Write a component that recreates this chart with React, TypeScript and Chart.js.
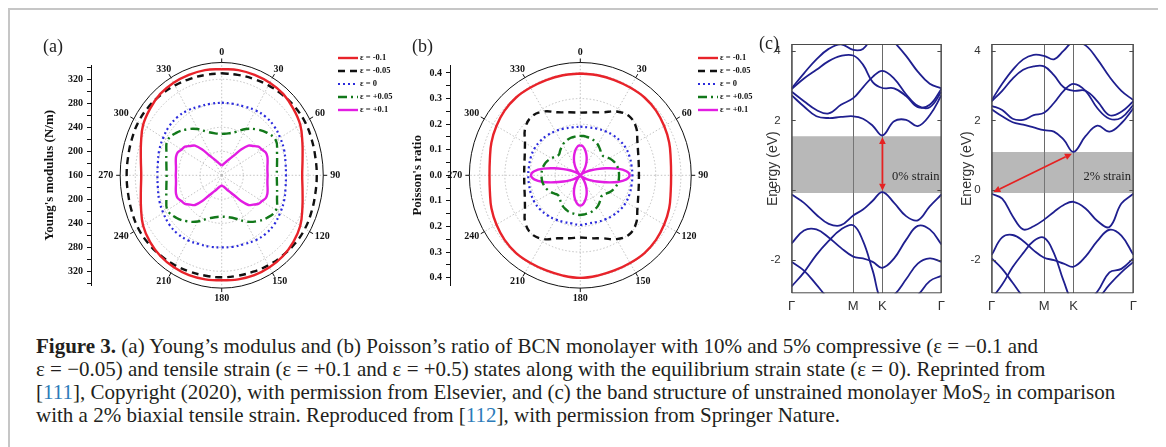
import React, { useEffect, useRef } from 'react';
import { Chart, registerables } from 'chart.js';

Chart.register(...registerables);

const SERIF = '"Liberation Serif", "Times New Roman", serif';
const SANS = '"Liberation Sans", Arial, sans-serif';

// ---------------- polar panels: angle grids (deg, clockwise from top) ----------------
const ANGLES_10 = [0, 10, 20, 30, 40, 50, 60, 70, 80, 90, 100, 110, 120, 130, 140, 150, 160, 170,
  180, 190, 200, 210, 220, 230, 240, 250, 260, 270, 280, 290, 300, 310, 320, 330, 340, 350];
const ANGLES_5 = [0, 5, 10, 15, 20, 25, 30, 35, 40, 45, 50, 55, 60, 65, 70, 75, 80, 85,
  90, 95, 100, 105, 110, 115, 120, 125, 130, 135, 140, 145, 150, 155, 160, 165, 170, 175,
  180, 185, 190, 195, 200, 205, 210, 215, 220, 225, 230, 235, 240, 245, 250, 255, 260, 265,
  270, 275, 280, 285, 290, 295, 300, 305, 310, 315, 320, 325, 330, 335, 340, 345, 350, 355];
const ANGLE_TICKS = [0, 30, 60, 90, 120, 150, 180, 210, 240, 270, 300, 330];
const STRAIN_LABELS = ['ε = -0.1', 'ε = -0.05', 'ε = 0', 'ε = +0.05', 'ε = +0.1'];

// (a) Young's modulus (N/m)
const YOUNG_BASE = 160;
const YOUNG_RINGS = [200, 240, 280, 320];
const YOUNG_OUTER = 348;
const YOUNG_M010 = [337, 338, 338, 338, 337, 333, 328, 319, 312, 309, 312, 319, 328, 333, 336, 337, 337, 336,
  335, 336, 337, 337, 336, 333, 328, 319, 312, 309, 312, 319, 328, 333, 337, 338, 338, 338];
const YOUNG_M005 = [330, 330, 331, 333, 335, 337, 338, 337, 336, 336, 336, 337, 338, 337, 335, 333, 331, 330,
  330, 330, 331, 333, 335, 337, 338, 337, 336, 336, 336, 337, 338, 337, 335, 333, 331, 330];
const YOUNG_0 = [281, 281, 282, 285, 287, 287, 285, 283, 280, 279, 280, 283, 285, 287, 287, 285, 282, 281,
  280, 281, 282, 285, 287, 287, 285, 283, 280, 279, 280, 283, 285, 287, 287, 285, 282, 281];
const YOUNG_P005 = [229, 231, 237, 249, 260, 270, 276, 269, 264, 262, 264, 269, 276, 270, 260, 249, 237, 231,
  229, 231, 237, 249, 260, 270, 276, 269, 264, 262, 264, 269, 276, 270, 260, 249, 237, 231];
const YOUNG_P010 = [176, 177, 179, 181, 184, 188, 193, 201, 216, 230, 236, 243, 246, 250, 250, 248, 246, 245,
  245, 245, 246, 248, 250, 250, 246, 243, 236, 230, 216, 201, 193, 188, 184, 181, 179, 178,
  177, 178, 179, 181, 184, 188, 193, 201, 216, 230, 236, 243, 246, 250, 250, 248, 246, 245,
  245, 245, 246, 248, 250, 250, 246, 243, 236, 230, 216, 201, 193, 188, 184, 181, 179, 177];

// (b) Poisson's ratio
const POISSON_RINGS = [0.1, 0.2, 0.3, 0.4];
const POISSON_OUTER = 0.441;
const POISSON_M010 = [0.398, 0.397, 0.396, 0.396, 0.397, 0.393, 0.385, 0.376, 0.365, 0.361, 0.365, 0.376, 0.385, 0.393, 0.397, 0.396, 0.396, 0.398,
  0.401, 0.398, 0.396, 0.396, 0.397, 0.393, 0.385, 0.376, 0.365, 0.361, 0.365, 0.376, 0.385, 0.393, 0.397, 0.396, 0.396, 0.397];
const POISSON_M005 = [0.245, 0.25, 0.262, 0.288, 0.302, 0.29, 0.262, 0.245, 0.236, 0.233, 0.236, 0.245, 0.262, 0.29, 0.302, 0.288, 0.262, 0.25,
  0.243, 0.25, 0.262, 0.288, 0.3, 0.286, 0.254, 0.235, 0.226, 0.223, 0.226, 0.235, 0.254, 0.286, 0.3, 0.288, 0.262, 0.25];
const POISSON_0 = [0.19, 0.19, 0.194, 0.199, 0.204, 0.208, 0.21, 0.209, 0.207, 0.207, 0.207, 0.209, 0.21, 0.208, 0.204, 0.199, 0.194, 0.191,
  0.194, 0.191, 0.194, 0.199, 0.204, 0.208, 0.21, 0.209, 0.207, 0.207, 0.207, 0.209, 0.21, 0.208, 0.204, 0.199, 0.194, 0.19];
const POISSON_P005 = [0.154, 0.154, 0.152, 0.151, 0.148, 0.144, 0.139, 0.132, 0.125, 0.118, 0.118, 0.125, 0.133, 0.14, 0.146, 0.15, 0.153, 0.154,
  0.154, 0.154, 0.153, 0.15, 0.146, 0.14, 0.133, 0.125, 0.118, 0.118, 0.125, 0.132, 0.139, 0.144, 0.148, 0.151, 0.152, 0.154,
  0.155, 0.154, 0.152, 0.151, 0.148, 0.144, 0.139, 0.132, 0.125, 0.118, 0.118, 0.125, 0.133, 0.14, 0.146, 0.15, 0.153, 0.154,
  0.154, 0.154, 0.153, 0.15, 0.146, 0.14, 0.133, 0.125, 0.118, 0.118, 0.125, 0.132, 0.139, 0.144, 0.148, 0.151, 0.152, 0.154];
const POISSON_P010 = [0.1185, 0.114, 0.103, 0.089, 0.074, 0.058, 0.042, 0.027, 0.012, 0, 0.007, 0.016, 0.029, 0.047, 0.071, 0.106, 0.15, 0.184,
  0.196, 0.184, 0.15, 0.106, 0.071, 0.047, 0.029, 0.016, 0.007, 0, 0.012, 0.027, 0.042, 0.058, 0.074, 0.089, 0.103, 0.114,
  0.1185, 0.114, 0.103, 0.089, 0.074, 0.058, 0.042, 0.027, 0.012, 0, 0.007, 0.016, 0.029, 0.047, 0.071, 0.106, 0.15, 0.184,
  0.196, 0.184, 0.15, 0.106, 0.071, 0.047, 0.029, 0.016, 0.007, 0, 0.012, 0.027, 0.042, 0.058, 0.074, 0.089, 0.103, 0.114];

// ---------------- (c) band structures, energies in eV along Γ–M–K–Γ ----------------
const HS_LABELS = ['Γ', 'M', 'K', 'Γ'];
const HS_LEFT = [0, 0.411, 0.606, 1];
const HS_RIGHT = [0, 0.37, 0.577, 1];
const K_LEFT = [0, 0.082, 0.165, 0.247, 0.329, 0.411, 0.476, 0.541, 0.606, 0.684, 0.764, 0.842, 0.922, 1];
const K_RIGHT = [0, 0.074, 0.148, 0.222, 0.296, 0.37, 0.439, 0.508, 0.577, 0.662, 0.746, 0.831, 0.915, 1];

// unstrained (0%)
const L_V1 = [-0.12, -0.36, -0.7, -0.96, -1.0, -0.72, -0.55, -0.3, -0.05, -0.36, -0.74, -0.86, -0.46, -0.12];
const L_V2 = [-1.52, -1.15, -1.12, -1.35, -1.65, -1.9, -1.95, -2.05, -2.22, -1.95, -1.42, -1.02, -1.12, -1.55];
const L_V3 = [-2.75, -2.35, -1.85, -1.45, -1.12, -1.0, -1.45, -2.3, -3.2, -3.0, -2.55, -2.1, -1.95, -2.05];
const L_V4 = [-2.05, -2.3, -2.7, -3.1, -3.3, -3.3, -3.3, -3.2, -3.0, -3.1, -3.2, -3.0, -2.6, -2.45];
const L_C1 = [2.72, 2.4, 2.12, 2.07, 2.1, 2.12, 2.05, 1.85, 1.57, 1.98, 2.02, 1.84, 2.15, 2.72];
const L_C2 = [2.82, 2.55, 2.3, 2.2, 2.45, 2.64, 2.95, 3.25, 3.42, 3.2, 2.75, 2.42, 2.38, 2.82];
const L_C3 = [2.9, 3.2, 3.45, 3.7, 3.85, 3.86, 3.6, 3.1, 2.93, 2.92, 2.7, 2.38, 2.45, 2.9];
const L_C4 = [2.92, 3.35, 3.75, 4.05, 4.18, 4.02, 4.05, 4.4, 4.6, 4.25, 3.85, 3.4, 3.05, 2.92];
// 2% biaxial tensile strain
const R_V1 = [-0.1, -0.24, -0.74, -1.12, -1.03, -0.84, -0.62, -0.42, -0.33, -0.52, -0.88, -1.05, -0.38, -0.1];
const R_V2 = [-1.85, -1.35, -1.28, -1.45, -1.72, -1.93, -2.0, -2.1, -2.19, -1.9, -1.45, -1.13, -1.3, -1.85];
const R_V3 = [-3.1, -2.7, -2.2, -1.8, -1.45, -1.36, -1.8, -2.6, -3.2, -3.2, -2.9, -2.35, -2.25, -1.95];
const R_V4 = [-1.95, -2.25, -2.65, -3.05, -3.3, -3.3, -3.3, -3.2, -3.1, -3.2, -3.1, -2.7, -2.35, -2.05];
const R_C1 = [2.32, 2.12, 1.95, 1.88, 1.8, 1.72, 1.68, 1.45, 1.1, 1.55, 1.85, 1.68, 1.92, 2.35];
const R_C2 = [2.42, 2.3, 2.05, 2.02, 2.15, 2.22, 2.5, 2.85, 3.05, 2.85, 2.35, 2.05, 2.08, 2.45];
const R_C3 = [2.55, 2.85, 3.2, 3.45, 3.55, 3.55, 3.3, 2.95, 2.85, 2.85, 2.55, 2.15, 2.25, 2.55];
const R_C4 = [2.58, 3.05, 3.45, 3.75, 3.88, 3.85, 3.75, 4.0, 4.25, 4.15, 3.75, 3.25, 2.85, 2.58];

// band gap windows [bottom, top] and gap arrows [k0, e0, k1, e1]
const GAP_LEFT = [-0.08, 1.55];
const GAP_RIGHT = [-0.08, 1.1];
const ARROW_LEFT = [0.606, -0.01, 0.606, 1.53];
const ARROW_RIGHT = [0.012, -0.05, 0.566, 1.05];

// ---------------- styles ----------------
const STRAIN_STYLES = [
  { color: '#e8232a', width: 2.4, dash: [] as number[] },
  { color: '#111111', width: 2.4, dash: [7, 5] },
  { color: '#2b2bdc', width: 2.2, dash: [2, 3] },
  { color: '#12781a', width: 2.4, dash: [9, 4, 2, 4] },
  { color: '#e21de2', width: 2.4, dash: [] as number[] },
];
const BAND_COLOR = '#1f1f8f';

function toXY(angles: number[], values: number[], base: number) {
  const pts = angles.map((a, i) => {
    const t = (a * Math.PI) / 180;
    const r = values[i] - base;
    return { x: r * Math.sin(t), y: r * Math.cos(t) };
  });
  pts.push({ ...pts[0] });
  return pts;
}

function polarFrame(base: number, rings: number[], outer: number) {
  const radii = (chart: any, v: number) => {
    const xs = chart.scales.x, ys = chart.scales.y;
    const cx = xs.getPixelForValue(0), cy = ys.getPixelForValue(0);
    return { cx, cy, rx: xs.getPixelForValue(v - base) - cx, ry: cy - ys.getPixelForValue(v - base) };
  };
  return {
    id: 'polarFrame',
    beforeDatasetsDraw(chart: any) {
      const ctx = chart.ctx;
      ctx.save();
      ctx.strokeStyle = '#b4b4b4';
      ctx.lineWidth = 0.8;
      ctx.setLineDash([1.5, 2]);
      rings.forEach((v) => {
        const { cx, cy, rx, ry } = radii(chart, v);
        ctx.beginPath();
        ctx.ellipse(cx, cy, rx, ry, 0, 0, Math.PI * 2);
        ctx.stroke();
      });
      const o = radii(chart, outer);
      ANGLE_TICKS.forEach((a) => {
        const t = (a * Math.PI) / 180;
        ctx.beginPath();
        ctx.moveTo(o.cx, o.cy);
        ctx.lineTo(o.cx + o.rx * Math.sin(t), o.cy - o.ry * Math.cos(t));
        ctx.stroke();
      });
      ctx.setLineDash([]);
      ctx.strokeStyle = '#111';
      ctx.lineWidth = 1;
      ctx.beginPath();
      ctx.ellipse(o.cx, o.cy, o.rx, o.ry, 0, 0, Math.PI * 2);
      ctx.stroke();
      ANGLE_TICKS.forEach((a) => {
        const t = (a * Math.PI) / 180;
        const s = Math.sin(t), c = Math.cos(t);
        ctx.beginPath();
        ctx.moveTo(o.cx + o.rx * s, o.cy - o.ry * c);
        ctx.lineTo(o.cx + (o.rx + 4) * s, o.cy - (o.ry + 4) * c);
        ctx.stroke();
      });
      ctx.restore();
    },
    afterDraw(chart: any) {
      const ctx = chart.ctx;
      const o = radii(chart, outer);
      ctx.save();
      ctx.fillStyle = '#111';
      ctx.font = `bold 10px ${SERIF}`;
      ctx.textAlign = 'center';
      ctx.textBaseline = 'middle';
      ANGLE_TICKS.forEach((a) => {
        const t = (a * Math.PI) / 180;
        const s = Math.sin(t), c = Math.cos(t);
        const txt = String(a);
        const tw = ctx.measureText(txt).width;
        ctx.fillText(txt, o.cx + (o.rx + 7) * s + (s * tw) / 2, o.cy - (o.ry + 10) * c);
      });
      ctx.restore();
    },
  };
}

function lineLegend(x: number, y: number, dy: number, len: number) {
  return {
    id: 'lineLegend',
    afterDraw(chart: any) {
      const ctx = chart.ctx;
      chart.data.datasets.forEach((ds: any, i: number) => {
        const yy = y + i * dy;
        ctx.save();
        ctx.strokeStyle = ds.borderColor;
        ctx.lineWidth = ds.borderWidth;
        ctx.setLineDash(ds.borderDash || []);
        ctx.beginPath();
        ctx.moveTo(x, yy);
        ctx.lineTo(x + len, yy);
        ctx.stroke();
        ctx.setLineDash([]);
        ctx.fillStyle = '#111';
        ctx.font = `bold 8.5px ${SERIF}`;
        ctx.textBaseline = 'middle';
        ctx.fillText(ds.label, x + len + 2, yy);
        ctx.restore();
      });
    },
  };
}

function polarConfig(o: any) {
  return {
    type: 'scatter',
    data: {
      datasets: o.series.map((s: any, i: number) => ({
        label: STRAIN_LABELS[i],
        data: toXY(s.angles, s.values, o.base),
        showLine: true,
        borderColor: STRAIN_STYLES[i].color,
        backgroundColor: STRAIN_STYLES[i].color,
        borderWidth: STRAIN_STYLES[i].width,
        borderDash: STRAIN_STYLES[i].dash,
        pointRadius: 0,
        tension: s.angles.length > 40 ? 0.3 : 0.4,
        fill: false,
      })),
    },
    options: {
      animation: false,
      responsive: false,
      devicePixelRatio: 1,
      layout: { padding: o.padding },
      plugins: { legend: { display: false }, tooltip: { enabled: false } },
      scales: {
        x: { type: 'linear', display: false, min: -o.xHalf, max: o.xHalf },
        y: {
          type: 'linear',
          min: -o.yHalf,
          max: o.yHalf,
          afterFit: (s: any) => { s.width = o.axisWidth; },
          ticks: {
            stepSize: o.step,
            autoSkip: false,
            includeBounds: false,
            callback: o.tickLabel,
            color: '#111',
            font: { family: SERIF, size: 10, weight: 'bold' },
            padding: 4,
          },
          grid: { drawOnChartArea: false, drawTicks: true, tickLength: 4, tickColor: '#111' },
          border: { display: true, color: '#111', width: 1 },
          title: {
            display: true,
            text: o.title,
            color: '#111',
            font: { family: SERIF, size: 13, weight: 'bold' },
            padding: { top: o.titlePad, bottom: 0 },
          },
        },
      },
    },
    plugins: [polarFrame(o.base, o.rings, o.outer), lineLegend(o.legend[0], o.legend[1], 13, 20)],
  };
}

function drawArrow(ctx: any, x0: number, y0: number, x1: number, y1: number) {
  const a = Math.atan2(y1 - y0, x1 - x0);
  const c = Math.cos(a), s = Math.sin(a);
  const head = 7, half = 3.3;
  ctx.strokeStyle = '#e52222';
  ctx.fillStyle = '#e52222';
  ctx.lineWidth = 1.8;
  ctx.beginPath();
  ctx.moveTo(x0 + head * c, y0 + head * s);
  ctx.lineTo(x1 - head * c, y1 - head * s);
  ctx.stroke();
  const tip = (tx: number, ty: number, dir: number) => {
    const bx = tx - dir * head * c, by = ty - dir * head * s;
    ctx.beginPath();
    ctx.moveTo(tx, ty);
    ctx.lineTo(bx - half * s, by + half * c);
    ctx.lineTo(bx + half * s, by - half * c);
    ctx.closePath();
    ctx.fill();
  };
  tip(x1, y1, 1);
  tip(x0, y0, -1);
}

function bandDecor(arrow: number[], note: string, noteK: number, noteE: number) {
  return {
    id: 'bandDecor',
    afterDatasetsDraw(chart: any) {
      const { ctx, chartArea: ca } = chart;
      const xs = chart.scales.x, ys = chart.scales.y;
      ctx.save();
      ctx.strokeStyle = '#4a4a4a';
      ctx.lineWidth = 1;
      ctx.strokeRect(ca.left + 0.5, ca.top + 0.5, ca.right - ca.left - 1, ca.bottom - ca.top - 1);
      ys.ticks.forEach((t: any) => {
        const py = Math.round(ys.getPixelForValue(t.value)) + 0.5;
        ctx.beginPath();
        ctx.moveTo(ca.left, py);
        ctx.lineTo(ca.left + 4, py);
        ctx.moveTo(ca.right, py);
        ctx.lineTo(ca.right - 4, py);
        ctx.stroke();
      });
      drawArrow(ctx, xs.getPixelForValue(arrow[0]), ys.getPixelForValue(arrow[1]),
        xs.getPixelForValue(arrow[2]), ys.getPixelForValue(arrow[3]));
      ctx.fillStyle = '#222';
      ctx.font = `12.5px ${SERIF}`;
      ctx.textBaseline = 'middle';
      ctx.fillText(note, xs.getPixelForValue(noteK), ys.getPixelForValue(noteE));
      ctx.restore();
    },
  };
}

function bandConfig(o: any) {
  const bands = o.bands.map((b: number[]) => ({
    data: o.k.map((k: number, i: number) => ({ x: k, y: b[i] })),
    showLine: true,
    borderColor: BAND_COLOR,
    borderWidth: 1.8,
    pointRadius: 0,
    tension: 0.4,
    fill: false,
    order: 0,
  }));
  const gap = [
    { data: [{ x: 0, y: o.gap[0] }, { x: 1, y: o.gap[0] }], showLine: true, borderWidth: 0, pointRadius: 0, fill: false, order: 5 },
    {
      data: [{ x: 0, y: o.gap[1] }, { x: 1, y: o.gap[1] }], showLine: true, borderWidth: 0, pointRadius: 0,
      fill: '-1', backgroundColor: 'rgba(125,125,125,0.55)', order: 5,
    },
  ];
  return {
    type: 'scatter',
    data: { datasets: [...gap, ...bands] },
    options: {
      animation: false,
      responsive: false,
      devicePixelRatio: 1,
      layout: { padding: o.padding },
      plugins: { legend: { display: false }, tooltip: { enabled: false } },
      scales: {
        x: {
          type: 'linear',
          min: 0,
          max: 1,
          afterBuildTicks: (s: any) => { s.ticks = o.hs.map((v: number) => ({ value: v })); },
          afterFit: (s: any) => { s.height = o.xAxisHeight; },
          ticks: {
            autoSkip: false,
            maxRotation: 0,
            color: '#333',
            font: { family: SANS, size: 13 },
            padding: 5,
            callback: (_v: number, i: number) => HS_LABELS[i],
          },
          grid: { display: true, drawOnChartArea: true, drawTicks: false, color: '#6a6a6a', lineWidth: 1 },
          border: { display: false },
        },
        y: {
          type: 'linear',
          min: -2.95,
          max: 4.19,
          afterFit: (s: any) => { s.width = o.axisWidth; },
          ticks: {
            stepSize: 2,
            includeBounds: false,
            color: '#333',
            font: { family: SANS, size: 11.5 },
            padding: 3,
            callback: (v: number) => (v < 0 ? '-' + Math.abs(v) : String(v)),
          },
          grid: { display: false },
          border: { display: false },
          title: {
            display: true,
            text: 'Energy (eV)',
            color: '#333',
            font: { family: SANS, size: 14 },
            padding: { top: o.titlePad, bottom: 0 },
          },
        },
      },
    },
    plugins: [bandDecor(o.arrow, o.note, o.noteK, o.noteE)],
  };
}

function ChartBox({ make, left, top, width, height }: any) {
  const ref = useRef<HTMLCanvasElement>(null);
  useEffect(() => {
    const chart = new Chart(ref.current as HTMLCanvasElement, make());
    return () => chart.destroy();
  }, []);
  return (
    <canvas
      ref={ref}
      width={width}
      height={height}
      style={{ position: 'absolute', left, top, width, height }}
    />
  );
}

const youngChart = () =>
  polarConfig({
    base: YOUNG_BASE,
    rings: YOUNG_RINGS,
    outer: YOUNG_OUTER,
    series: [
      { angles: ANGLES_10, values: YOUNG_M010 },
      { angles: ANGLES_10, values: YOUNG_M005 },
      { angles: ANGLES_10, values: YOUNG_0 },
      { angles: ANGLES_10, values: YOUNG_P005 },
      { angles: ANGLES_5, values: YOUNG_P010 },
    ],
    xHalf: 242,
    yHalf: 183.3,
    step: 20,
    tickLabel: (v: number) => {
      const a = Math.round(Math.abs(v));
      return a % 40 === 0 ? String(YOUNG_BASE + a) : '';
    },
    title: "Young's modulus (N/m)",
    titlePad: 22,
    axisWidth: 71,
    padding: { left: 0, top: 35.3, right: 57.6, bottom: 24.7 },
    legend: [318, 28],
  });

const poissonChart = () =>
  polarConfig({
    base: 0,
    rings: POISSON_RINGS,
    outer: POISSON_OUTER,
    series: [
      { angles: ANGLES_10, values: POISSON_M010 },
      { angles: ANGLES_10, values: POISSON_M005 },
      { angles: ANGLES_10, values: POISSON_0 },
      { angles: ANGLES_5, values: POISSON_P005 },
      { angles: ANGLES_5, values: POISSON_P010 },
    ],
    xHalf: 0.518,
    yHalf: 0.43,
    step: 0.05,
    tickLabel: (v: number) => {
      const n = Math.round(Math.abs(v) * 100);
      return n % 10 === 0 ? (n / 100).toFixed(1) : '';
    },
    title: "Poisson's ratio",
    titlePad: 10,
    axisWidth: 50,
    padding: { left: 0, top: 35.3, right: 59.4, bottom: 24.7 },
    legend: [298, 28],
  });

const bandLeftChart = () =>
  bandConfig({
    k: K_LEFT,
    hs: HS_LEFT,
    bands: [L_V1, L_V2, L_V3, L_V4, L_C1, L_C2, L_C3, L_C4],
    gap: GAP_LEFT,
    arrow: ARROW_LEFT,
    note: '0% strain',
    noteK: 0.67,
    noteE: 0.4,
    axisWidth: 33.7,
    titlePad: 6.5,
    xAxisHeight: 26.7,
    padding: { left: 0, top: 10, right: 4.3, bottom: 0 },
  });

const bandRightChart = () =>
  bandConfig({
    k: K_RIGHT,
    hs: HS_RIGHT,
    bands: [R_V1, R_V2, R_V3, R_V4, R_C1, R_C2, R_C3, R_C4],
    gap: GAP_RIGHT,
    arrow: ARROW_RIGHT,
    note: '2% strain',
    noteK: 0.647,
    noteE: 0.4,
    axisWidth: 39.7,
    titlePad: 7,
    xAxisHeight: 26.7,
    padding: { left: 0, top: 10, right: 6, bottom: 0 },
  });

const panelLabel = (text: string, left: number, top: number) => (
  <div
    style={{
      position: 'absolute', left, top, font: `18px ${SERIF}`, lineHeight: '18px', color: '#222', zIndex: 2,
    }}
  >
    {text}
  </div>
);

const cite = { color: '#2b7bb9' };

export default function App() {
  return (
    <div
      style={{
        position: 'relative',
        width: 1156,
        height: 439,
        boxSizing: 'border-box',
        borderTop: '2px solid #c6c6c6',
        borderLeft: '2px solid #c6c6c6',
        borderRight: '2px solid #c6c6c6',
        background: '#fff',
        overflow: 'hidden',
      }}
    >
      <ChartBox make={youngChart} left={10} top={20} width={390} height={280} />
      <ChartBox make={poissonChart} left={390} top={20} width={370} height={280} />
      <ChartBox make={bandLeftChart} left={748} top={24} width={192} height={286} />
      <ChartBox make={bandRightChart} left={942} top={24} width={190} height={286} />
      {panelLabel('(a)', 33, 27)}
      {panelLabel('(b)', 402, 27)}
      {panelLabel('(c)', 749, 24)}
      <div
        style={{
          position: 'absolute',
          left: 26,
          top: 325,
          font: `21px ${SERIF}`,
          lineHeight: '23px',
          color: '#231f20',
          whiteSpace: 'nowrap',
        }}
      >
        <div>
          <b>Figure 3.</b> (a) Young’s modulus and (b) Poisson’s ratio of BCN monolayer with 10% and 5% compressive (ε = −0.1 and
        </div>
        <div>
          ε = −0.05) and tensile strain (ε = +0.1 and ε = +0.5) states along with the equilibrium strain state (ε = 0). Reprinted from
        </div>
        <div>
          [<span style={cite}>111</span>], Copyright (2020), with permission from Elsevier, and (c) the band structure of unstrained monolayer MoS
          <span style={{ fontSize: '0.7em', verticalAlign: '-0.25em', lineHeight: 0 }}>2</span> in comparison
        </div>
        <div>
          with a 2% biaxial tensile strain. Reproduced from [<span style={cite}>112</span>], with permission from Springer Nature.
        </div>
      </div>
    </div>
  );
}
